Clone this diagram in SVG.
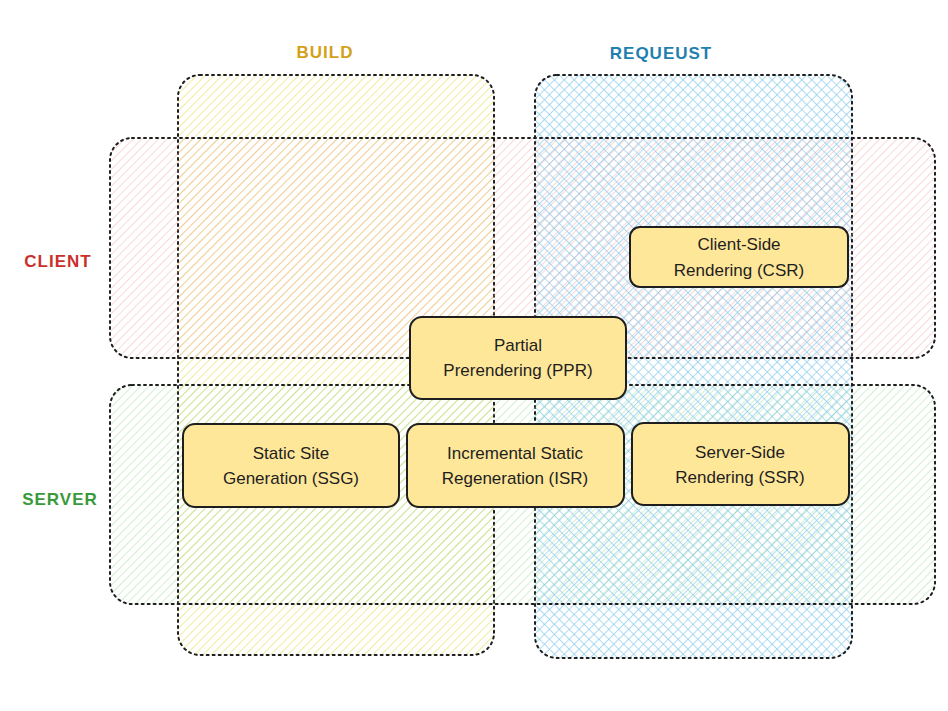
<svg xmlns="http://www.w3.org/2000/svg" width="948" height="711" viewBox="0 0 948 711">
<defs>
<pattern id="pY" width="6" height="6" patternUnits="userSpaceOnUse" patternTransform="rotate(45)"><line x1="0" y1="0" x2="0" y2="6" stroke="#e6dc50" stroke-width="1.6"/></pattern>
<pattern id="pB" width="7" height="7" patternUnits="userSpaceOnUse" patternTransform="rotate(45)"><line x1="0" y1="0" x2="0" y2="7" stroke="#58b6e6" stroke-width="1.4"/><line x1="0" y1="0" x2="7" y2="0" stroke="#58b6e6" stroke-width="1.4"/></pattern>
<pattern id="pR" width="6" height="6" patternUnits="userSpaceOnUse" patternTransform="rotate(45)"><line x1="0" y1="0" x2="0" y2="6" stroke="#f29a9a" stroke-width="1.3"/></pattern>
<pattern id="pG" width="6" height="6" patternUnits="userSpaceOnUse" patternTransform="rotate(45)"><line x1="0" y1="0" x2="0" y2="6" stroke="#8ad68a" stroke-width="1.3"/></pattern>
</defs>
<style>
.reg{stroke:#1e1e1e;stroke-width:2;stroke-dasharray:2 4;stroke-linecap:round}
.node rect{fill:#ffe79a;stroke:#1e1e1e;stroke-width:2}
.node text,.lbl{font-family:"Comic Sans MS","Liberation Sans",sans-serif;font-size:17px;text-anchor:middle;fill:#1e1e1e}
.lbl{font-size:17px;letter-spacing:1px;font-weight:bold}
</style>
<rect width="948" height="711" fill="#fff"/>
<g id="regions">
<rect id="build" class="reg" x="178" y="75" width="316" height="580" rx="22" fill="url(#pY)" fill-opacity="0.7"/>
<rect id="request" class="reg" x="535" y="75" width="317" height="583" rx="22" fill="url(#pB)" fill-opacity="0.7"/>
<rect id="client" class="reg" x="110" y="138" width="825" height="220" rx="22" fill="url(#pR)" fill-opacity="0.6"/>
<rect id="server" class="reg" x="110" y="385" width="825" height="219" rx="22" fill="url(#pG)" fill-opacity="0.6"/>
</g>
<text class="lbl" x="325" y="58" style="fill:#d4a017">BUILD</text>
<text class="lbl" x="661" y="59" style="fill:#1f7fb0">REQUEUST</text>
<text class="lbl" x="58" y="267" style="fill:#c9302c">CLIENT</text>
<text class="lbl" x="60" y="505" style="fill:#3a9a3a">SERVER</text>
<g id="connectors"></g>
<g id="csr" class="node"><rect x="630" y="227" width="218" height="60" rx="10"/><text x="739" y="250">Client-Side</text><text x="739" y="276">Rendering (CSR)</text></g>
<g id="ppr" class="node"><rect x="410" y="317" width="216" height="82" rx="12"/><text x="518" y="351">Partial</text><text x="518" y="376">Prerendering (PPR)</text></g>
<g id="ssg" class="node"><rect x="183" y="424" width="216" height="83" rx="12"/><text x="291" y="459">Static Site</text><text x="291" y="484">Generation (SSG)</text></g>
<g id="isr" class="node"><rect x="407" y="424" width="217" height="83" rx="12"/><text x="515" y="459">Incremental Static</text><text x="515" y="484">Regeneration (ISR)</text></g>
<g id="ssr" class="node"><rect x="632" y="423" width="217" height="82" rx="12"/><text x="740" y="458">Server-Side</text><text x="740" y="483">Rendering (SSR)</text></g>
</svg>
